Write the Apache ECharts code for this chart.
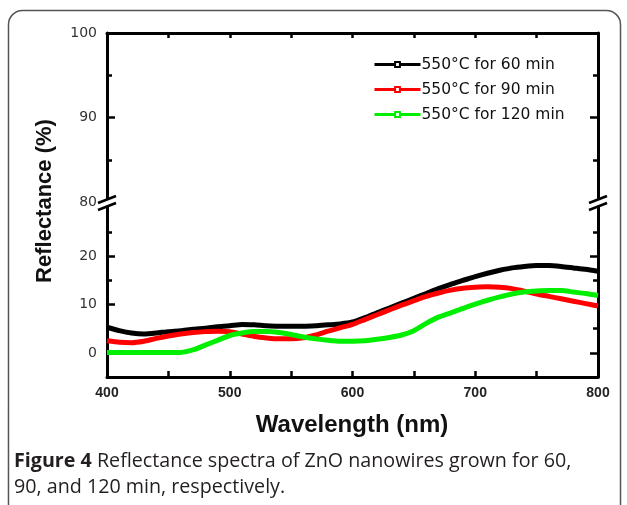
<!DOCTYPE html>
<html>
<head>
<meta charset="utf-8">
<script src="https://cdn.jsdelivr.net/npm/echarts@6/dist/echarts.min.js"></script>
<style>html,body{margin:0;padding:0;background:#fff;}#c{width:627px;height:505px;}</style>
</head>
<body>
<div id="c"></div>
<script>
// ---- data ----
const wavelengths = [400,410,420,430,440,450,460,470,480,490,500,510,520,530,540,550,560,570,580,590,600,610,620,630,640,650,660,670,680,690,700,710,720,730,740,750,760,770,780,790,800];
const refl60  = [5.3,4.6,4.1,3.9,4.1,4.4,4.6,4.9,5.1,5.4,5.6, 5.9,5.8,5.6,5.5,5.5,5.5,5.6,5.8,6.0,6.4, 7.3,8.3,9.3,10.3,11.3,12.3,13.3,14.2,15.0,15.8, 16.5,17.1,17.6,17.9,18.1,18.1,17.9,17.6,17.3,16.9];
const refl90  = [2.5,2.2,2.1,2.4,3.0,3.5,3.9,4.2,4.4,4.5,4.4, 3.9,3.4,3.1,2.9,2.9,3.1,3.7,4.5,5.2,5.9, 6.9,7.9,8.9,9.9,10.8,11.7,12.4,13.0,13.4,13.6, 13.7,13.6,13.3,12.8,12.2,11.7,11.2,10.7,10.2,9.7];
const refl120 = [0.1,0.1,0.1,0.1,0.1,0.1,0.1,0.6,1.6,2.6,3.6, 4.1,4.4,4.4,4.2,3.8,3.3,2.9,2.6,2.4,2.4, 2.5,2.8,3.2,3.7,4.6,6.1,7.4,8.3,9.2,10.1, 10.9,11.6,12.2,12.6,12.8,12.9,12.9,12.6,12.3,11.9];
const seriesNames = ['550°C for 60 min','550°C for 90 min','550°C for 120 min'];
const seriesColors = ['#000000','#ff0000','#00ee00'];
const xTicks = [400,500,600,700,800];
const upperTicks = [80,90,100];
const upperMinor = [85,95];
const lowerTicks = [0,10,20];
const lowerMinor = [5,15,25];

const FONT = 'Liberation Sans';
function pair(data){ return wavelengths.map((w,i)=>[w,data[i]]); }

function yAxes(grid, min, max, majors, minors, pos, labels){
  const base = {type:'value', gridIndex:grid, min:min, max:max, position:pos, splitLine:{show:false}};
  return [
    Object.assign({}, base, {
      axisLine:{show:true, onZero:false, lineStyle:{color:'#000', width:3}},
      axisTick:{show:true, inside:true, length:8, customValues:majors, lineStyle:{color:'#000', width:2.5}},
      axisLabel:{show:labels, customValues:majors, margin:10, fontSize:14, fontFamily:'DejaVu Sans', color:'#333'}
    }),
    Object.assign({}, base, {
      axisLine:{show:false},
      axisTick:{show:true, inside:true, length:5, customValues:minors, lineStyle:{color:'#000', width:2.5}},
      axisLabel:{show:false}
    })
  ];
}

const chart = echarts.init(document.getElementById('c'), null, {renderer:'canvas'});
const option = {
  animation:false,
  backgroundColor:'#fff',
  grid:[
    {left:107, width:491, top:33, height:169},
    {left:107, width:491, top:202, height:175}
  ],
  xAxis:[
    {type:'value', gridIndex:0, min:400, max:800, interval:50, position:'top',
     axisLine:{show:true, onZero:false, lineStyle:{color:'#000', width:3}},
     axisTick:{show:true, inside:true, length:5, lineStyle:{color:'#000', width:2.5}},
     axisLabel:{show:false}, splitLine:{show:false}},
    {type:'value', gridIndex:1, min:400, max:800, interval:50, position:'bottom',
     axisLine:{show:true, onZero:false, lineStyle:{color:'#000', width:3}},
     axisTick:{show:true, inside:true, length:6, lineStyle:{color:'#000', width:2.5}},
     axisLabel:{show:true, customValues:xTicks, margin:9, fontSize:14, fontWeight:'bold', fontFamily:FONT, color:'#222'},
     splitLine:{show:false}}
  ],
  yAxis:[].concat(
    yAxes(0, 80, 100, upperTicks, upperMinor, 'left', true),
    yAxes(0, 80, 100, upperTicks, upperMinor, 'right', false),
    yAxes(1, -5, 31.25, lowerTicks, lowerMinor, 'left', true),
    yAxes(1, -5, 31.25, lowerTicks, lowerMinor, 'right', false)
  ),
  legend:{
    left:368, top:51, orient:'vertical', itemWidth:46, itemHeight:6, itemGap:8,
    lineStyle:{width:3},
    textStyle:{fontSize:15.5, fontFamily:'DejaVu Sans', color:'#111', padding:[0,0,0,-4], lineHeight:17},
    data:seriesNames
  },
  series:[refl60, refl90, refl120].map((d,i)=>({
    name:seriesNames[i], type:'line', xAxisIndex:1, yAxisIndex:4,
    data:pair(d), smooth:0.2, showSymbol:false, symbol:'emptyRect', symbolSize:6,
    lineStyle:{color:seriesColors[i], width:5},
    itemStyle:{color:seriesColors[i], borderColor:seriesColors[i]}
  }))
};
chart.setOption(option);

// decorations: frame, axis titles, caption, axis-break marks
const xl = chart.convertToPixel({xAxisIndex:1}, 400);
const xr = chart.convertToPixel({xAxisIndex:1}, 800);
const yb = chart.convertToPixel({yAxisIndex:0}, 80) + 3;
function breakMark(x){
  return [
    {type:'polygon', shape:{points:[[x-9,yb+4],[x+9,yb-3],[x+9,yb-10],[x-9,yb-3]]}, style:{fill:'#fff'}, z:100},
    {type:'line', shape:{x1:x-9,y1:yb+5,x2:x+9,y2:yb-2}, style:{stroke:'#000', lineWidth:2.5}, z:101},
    {type:'line', shape:{x1:x-9,y1:yb-2,x2:x+9,y2:yb-9}, style:{stroke:'#000', lineWidth:2.5}, z:101}
  ];
}
chart.setOption({
  graphic:[
    {type:'rect', shape:{x:8.5, y:10.5, width:612, height:510, r:14}, style:{fill:'none', stroke:'#555', lineWidth:1.5}, z:0},
    {type:'text', x:45, y:201, rotation:Math.PI/2, style:{text:'Reflectance (%)', font:'bold 22px "Liberation Sans"', fill:'#111', align:'center', verticalAlign:'middle'}},
    {type:'text', x:352, y:425, style:{text:'Wavelength (nm)', font:'bold 24px "Liberation Sans"', fill:'#111', align:'center', verticalAlign:'middle'}},
    {type:'text', x:14, y:448, style:{
      text:'{b|Figure 4} Reflectance spectra of ZnO nanowires grown for 60,\n90, and 120 min, respectively.',
      font:'19.7px "Open Sans"', fill:'#231f20', verticalAlign:'top', lineHeight:26,
      rich:{b:{fontWeight:'bold', fontFamily:'Open Sans', fontSize:19.7, fill:'#231f20', lineHeight:26}}
    }}
  ].concat(breakMark(xl), breakMark(xr))
});
</script>
</body>
</html>
